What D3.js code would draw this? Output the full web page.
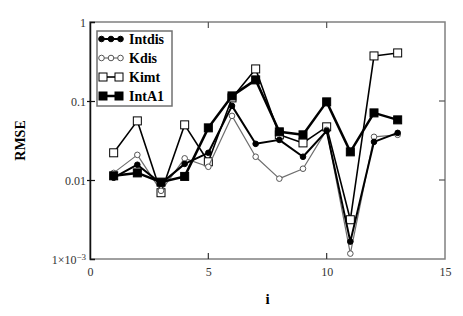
<!DOCTYPE html>
<html>
<head>
<meta charset="utf-8">
<script src="https://cdn.jsdelivr.net/npm/d3@7"></script>
<style>
  body { margin: 0; background: #fff; }
</style>
</head>
<body>
<svg id="chart" width="463" height="316"></svg>
<script>
// Data
const iValues = [1, 2, 3, 4, 5, 6, 7, 8, 9, 10, 11, 12, 13];
const intdis = [0.0107, 0.0156, 0.0090, 0.0160, 0.0221, 0.0867, 0.0287, 0.0322, 0.0197, 0.0419, 0.00166, 0.0304, 0.0395];
const kdis   = [0.0123, 0.0208, 0.0073, 0.0188, 0.0147, 0.0648, 0.0197, 0.0104, 0.0139, 0.0431, 0.00117, 0.0352, 0.0373];
const kimt   = [0.0221, 0.0560, 0.0069, 0.0499, 0.0170, 0.1094, 0.2546, 0.0373, 0.0295, 0.0471, 0.00314, 0.372, 0.406];
const intA1  = [0.0113, 0.0123, 0.0094, 0.0111, 0.0457, 0.116, 0.185, 0.0407, 0.0373, 0.0975, 0.0227, 0.0707, 0.0577];
const xTicks = [0, 5, 10, 15];
const yTicks = [1, 0.1, 0.01, 0.001];

const SERIF = "'Liberation Serif', 'Times New Roman', Times, serif";

const svg = d3.select("#chart");
const margin = { left: 90, right: 18, top: 22, bottom: 57 };
const W = 463, H = 316;

const x = d3.scaleLinear().domain([0, 15]).range([margin.left, W - margin.right]);
const y = d3.scaleLog().domain([0.001, 1]).range([H - margin.bottom, margin.top]);

// frame (gray) with black left axis
svg.append("rect")
    .attr("x", x(0)).attr("y", y(1))
    .attr("width", x(15) - x(0)).attr("height", y(0.001) - y(1))
    .attr("fill", "none")
    .attr("stroke", "#808080")
    .attr("stroke-width", 1.5);

// inward ticks on bottom, top, right
const g = svg.append("g");
g.selectAll(".xt-bottom").data([5, 10]).join("line")
    .attr("x1", d => x(d)).attr("x2", d => x(d))
    .attr("y1", y(0.001)).attr("y2", y(0.001) - 6)
    .attr("stroke", "#333").attr("stroke-width", 1.2);
g.selectAll(".xt-top").data([5, 10]).join("line")
    .attr("x1", d => x(d)).attr("x2", d => x(d))
    .attr("y1", y(1)).attr("y2", y(1) + 6)
    .attr("stroke", "#555").attr("stroke-width", 1.2);
g.selectAll(".yt-right").data([0.1, 0.01]).join("line")
    .attr("x1", x(15)).attr("x2", x(15) - 6)
    .attr("y1", d => y(d)).attr("y2", d => y(d))
    .attr("stroke", "#555").attr("stroke-width", 1.2);

// left axis
const yAxis = svg.append("g")
    .attr("transform", `translate(${x(0)},0)`)
    .call(d3.axisLeft(y).tickValues(yTicks).tickSize(-5).tickFormat(() => ""));
yAxis.attr("font-family", null);
yAxis.select(".domain").attr("stroke", "#111").attr("stroke-width", 1.5);
yAxis.selectAll(".tick line").attr("stroke", "#111").attr("x1", -3).attr("stroke-width", 1.2);
yAxis.selectAll(".tick").filter(d => d === 1 || d === 0.001).select("line").remove();
yAxis.selectAll(".tick text").remove();

yAxis.selectAll(".tick").append("text")
    .attr("x", -4).attr("dy", "0.35em")
    .attr("text-anchor", "end")
    .attr("fill", "#333")
    .style("font-family", SERIF)
    .style("font-size", "12px")
    .each(function (d) {
        const t = d3.select(this);
        if (d === 0.001) {
            t.append("tspan").text("1\u00d710");
            t.append("tspan").attr("dy", "-0.45em").style("font-size", "9px").text("\u22123");
        } else {
            t.text(d3.format("")(d));
        }
    });

// bottom axis labels
const xAxis = svg.append("g")
    .attr("transform", `translate(0,${y(0.001)})`)
    .call(d3.axisBottom(x).tickValues(xTicks).tickSize(0).tickPadding(8).tickFormat(d3.format("d")));
xAxis.attr("font-family", null);
xAxis.select(".domain").remove();
xAxis.selectAll("text")
    .attr("fill", "#333")
    .style("font-size", "12px")
    .style("font-family", SERIF);

// axis titles
svg.append("text")
    .attr("x", (x(0) + x(15)) / 2).attr("y", 304)
    .attr("text-anchor", "middle")
    .style("font-family", SERIF)
    .style("font-size", "15px").style("font-weight", "bold")
    .text("i");

svg.append("text")
    .attr("transform", `translate(25,${(y(1) + y(0.001)) / 2}) rotate(-90)`)
    .attr("text-anchor", "middle")
    .style("font-family", SERIF)
    .style("font-size", "14px").style("font-weight", "bold")
    .text("RMSE");

// series
const series = [
    { name: "Intdis", values: intdis, line: "#000", width: 2, marker: "circle", fill: "#000", mstroke: "#000", size: 2.8 },
    { name: "Kdis", values: kdis, line: "#6e6e6e", width: 1.2, marker: "circle", fill: "#fff", mstroke: "#555", size: 2.8 },
    { name: "Kimt", values: kimt, line: "#000", width: 1.6, marker: "square", fill: "#fff", mstroke: "#000", size: 8 },
    { name: "IntA1", values: intA1, line: "#000", width: 2.5, marker: "square", fill: "#000", mstroke: "#000", size: 8 }
];

const line = d3.line().x(d => x(d[0])).y(d => y(d[1]));

function drawMarker(sel, s, cx, cy) {
    if (s.marker === "circle") {
        sel.append("circle")
            .attr("cx", cx).attr("cy", cy).attr("r", s.size)
            .attr("fill", s.fill).attr("stroke", s.mstroke).attr("stroke-width", 1);
    } else {
        sel.append("rect")
            .attr("x", cx - s.size / 2).attr("y", cy - s.size / 2)
            .attr("width", s.size).attr("height", s.size)
            .attr("fill", s.fill).attr("stroke", s.mstroke).attr("stroke-width", 1);
    }
}

// drawing order so Intdis sits on top
const order = [2, 1, 3, 0];
order.forEach(k => {
    const s = series[k];
    const pts = iValues.map((v, j) => [v, s.values[j]]);
    const sg = svg.append("g");
    sg.append("path")
        .attr("d", line(pts))
        .attr("fill", "none")
        .attr("stroke", s.line)
        .attr("stroke-width", s.width)
        .attr("stroke-linejoin", "round");
    pts.forEach(p => drawMarker(sg, s, x(p[0]), y(p[1])));
});

// legend
const legend = svg.append("g");
legend.append("rect")
    .attr("x", 97).attr("y", 31).attr("width", 75).attr("height", 75)
    .attr("fill", "#fff").attr("stroke", "#707070").attr("stroke-width", 1.5);

series.forEach((s, k) => {
    const ly = 39 + k * 19;
    const row = legend.append("g");
    row.append("line")
        .attr("x1", 100).attr("x2", 122).attr("y1", ly).attr("y2", ly)
        .attr("stroke", s.line).attr("stroke-width", s.width);
    if (s.marker === "circle") {
        [101.5, 111, 120.5].forEach(cx => drawMarker(row, s, cx, ly));
    } else {
        [103, 119].forEach(cx => drawMarker(row, s, cx, ly));
    }
    row.append("text")
        .attr("x", 129).attr("y", ly).attr("dy", "0.35em")
        .style("font-family", SERIF)
        .style("font-size", "14px").style("font-weight", "bold")
        .text(s.name);
});
</script>
</body>
</html>
